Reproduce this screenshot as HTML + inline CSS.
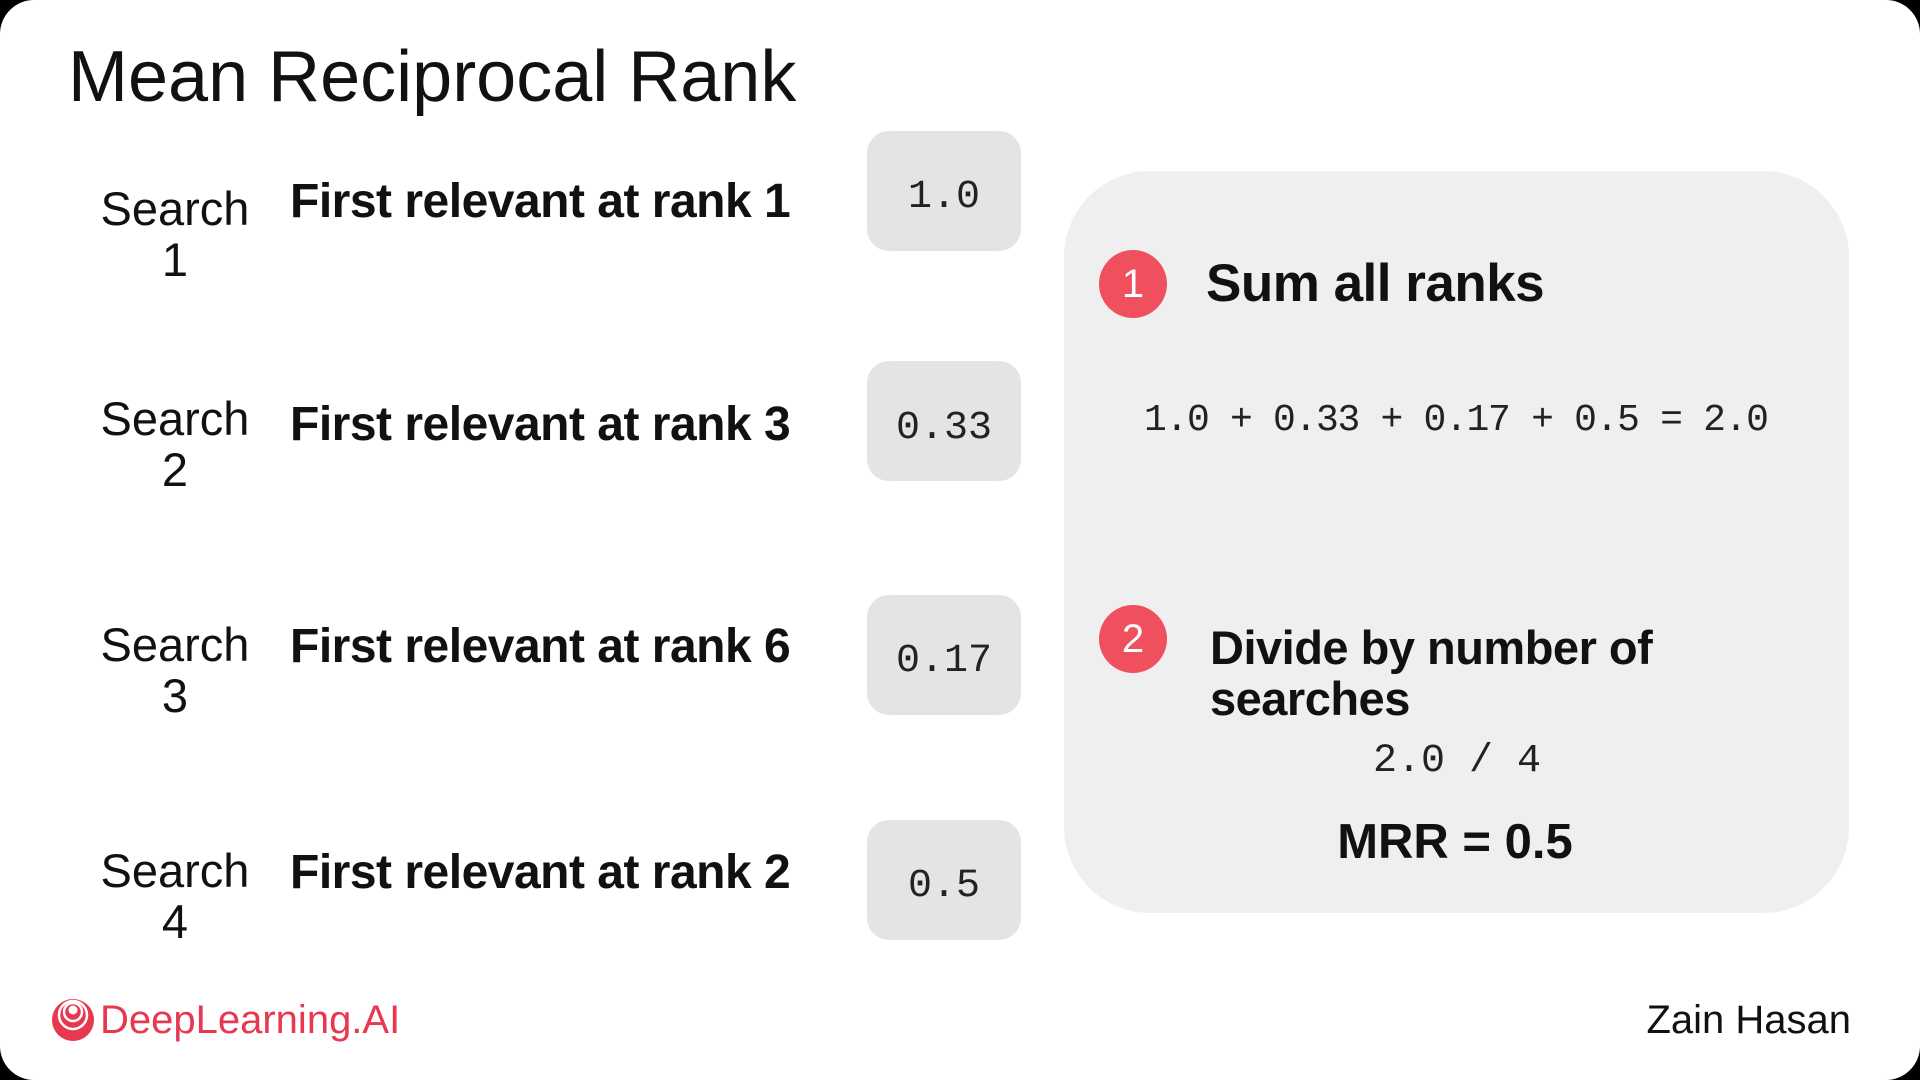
<!DOCTYPE html>
<html><head><meta charset="utf-8"><style>
html,body{margin:0;padding:0;background:#000;}
#slide{position:relative;width:1920px;height:1080px;background:#fff;border-radius:34px;overflow:hidden;font-family:"Liberation Sans",sans-serif;color:#111;}
.abs{position:absolute;white-space:nowrap;}
.search{width:200px;text-align:center;font-size:47px;line-height:51px;left:75px;}
.rowtxt{left:290px;font-weight:bold;font-size:48px;letter-spacing:-0.5px;height:60px;line-height:60px;}
.box{left:867px;width:154px;height:120px;background:#e4e4e4;border-radius:22px;}
.val{left:867px;width:154px;text-align:center;font-family:"Liberation Mono",monospace;font-size:40px;color:#222;height:60px;line-height:60px;}
.circ{width:68px;height:68px;border-radius:50%;background:#f04f5e;color:#fff;font-size:40px;text-align:center;line-height:68px;}
.mono{font-family:"Liberation Mono",monospace;color:#222;}
</style></head><body>
<div id="slide">
<div class="abs" style="left:68px;top:34px;font-size:72px;line-height:86px;color:#111;">Mean Reciprocal Rank</div>

<div class="abs search" style="top:183px;">Search<br>1</div>
<div class="abs rowtxt" style="top:172px;">First relevant at rank 1</div>
<div class="abs box" style="top:131px;"></div>
<div class="abs val" style="top:168px;">1.0</div>

<div class="abs search" style="top:393px;">Search<br>2</div>
<div class="abs rowtxt" style="top:395px;">First relevant at rank 3</div>
<div class="abs box" style="top:361px;"></div>
<div class="abs val" style="top:399px;">0.33</div>

<div class="abs search" style="top:619px;">Search<br>3</div>
<div class="abs rowtxt" style="top:617px;">First relevant at rank 6</div>
<div class="abs box" style="top:595px;"></div>
<div class="abs val" style="top:632px;">0.17</div>

<div class="abs search" style="top:845px;">Search<br>4</div>
<div class="abs rowtxt" style="top:843px;">First relevant at rank 2</div>
<div class="abs box" style="top:820px;"></div>
<div class="abs val" style="top:857px;">0.5</div>

<div class="abs" style="left:1064px;top:171px;width:785px;height:742px;background:#efefef;border-radius:86px;"></div>
<div class="abs circ" style="left:1099px;top:250px;">1</div>
<div class="abs" style="left:1206px;top:254px;font-size:53px;font-weight:bold;line-height:60px;letter-spacing:-0.5px;">Sum all ranks</div>
<div class="abs mono" style="left:1144px;top:399px;font-size:38px;line-height:44px;letter-spacing:-1.3px;">1.0 + 0.33 + 0.17 + 0.5 = 2.0</div>
<div class="abs circ" style="left:1099px;top:605px;">2</div>
<div class="abs" style="left:1210px;top:622px;font-size:47px;font-weight:bold;line-height:51px;letter-spacing:-0.5px;">Divide by number of<br>searches</div>
<div class="abs mono" style="left:1257px;width:400px;text-align:center;top:739px;font-size:40px;line-height:46px;">2.0 / 4</div>
<div class="abs" style="left:1255px;width:400px;text-align:center;top:813px;font-size:49px;font-weight:bold;line-height:58px;">MRR = 0.5</div>

<svg class="abs" style="left:51px;top:998px;" width="44" height="44" viewBox="0 0 44 44">
<circle cx="22" cy="22" r="21" fill="#e8384f"/>
<circle cx="22" cy="17" r="14" fill="none" stroke="#fff" stroke-width="2.5"/>
<circle cx="22" cy="14" r="9" fill="none" stroke="#fff" stroke-width="2.5"/>
<circle cx="22" cy="12" r="4.5" fill="#fff"/>
</svg>
<div class="abs" style="left:100px;top:998px;font-size:40px;line-height:44px;color:#e8384f;">DeepLearning.AI</div>
<div class="abs" style="right:69px;top:998px;font-size:40px;line-height:44px;color:#111;">Zain Hasan</div>
</div>
</body></html>
